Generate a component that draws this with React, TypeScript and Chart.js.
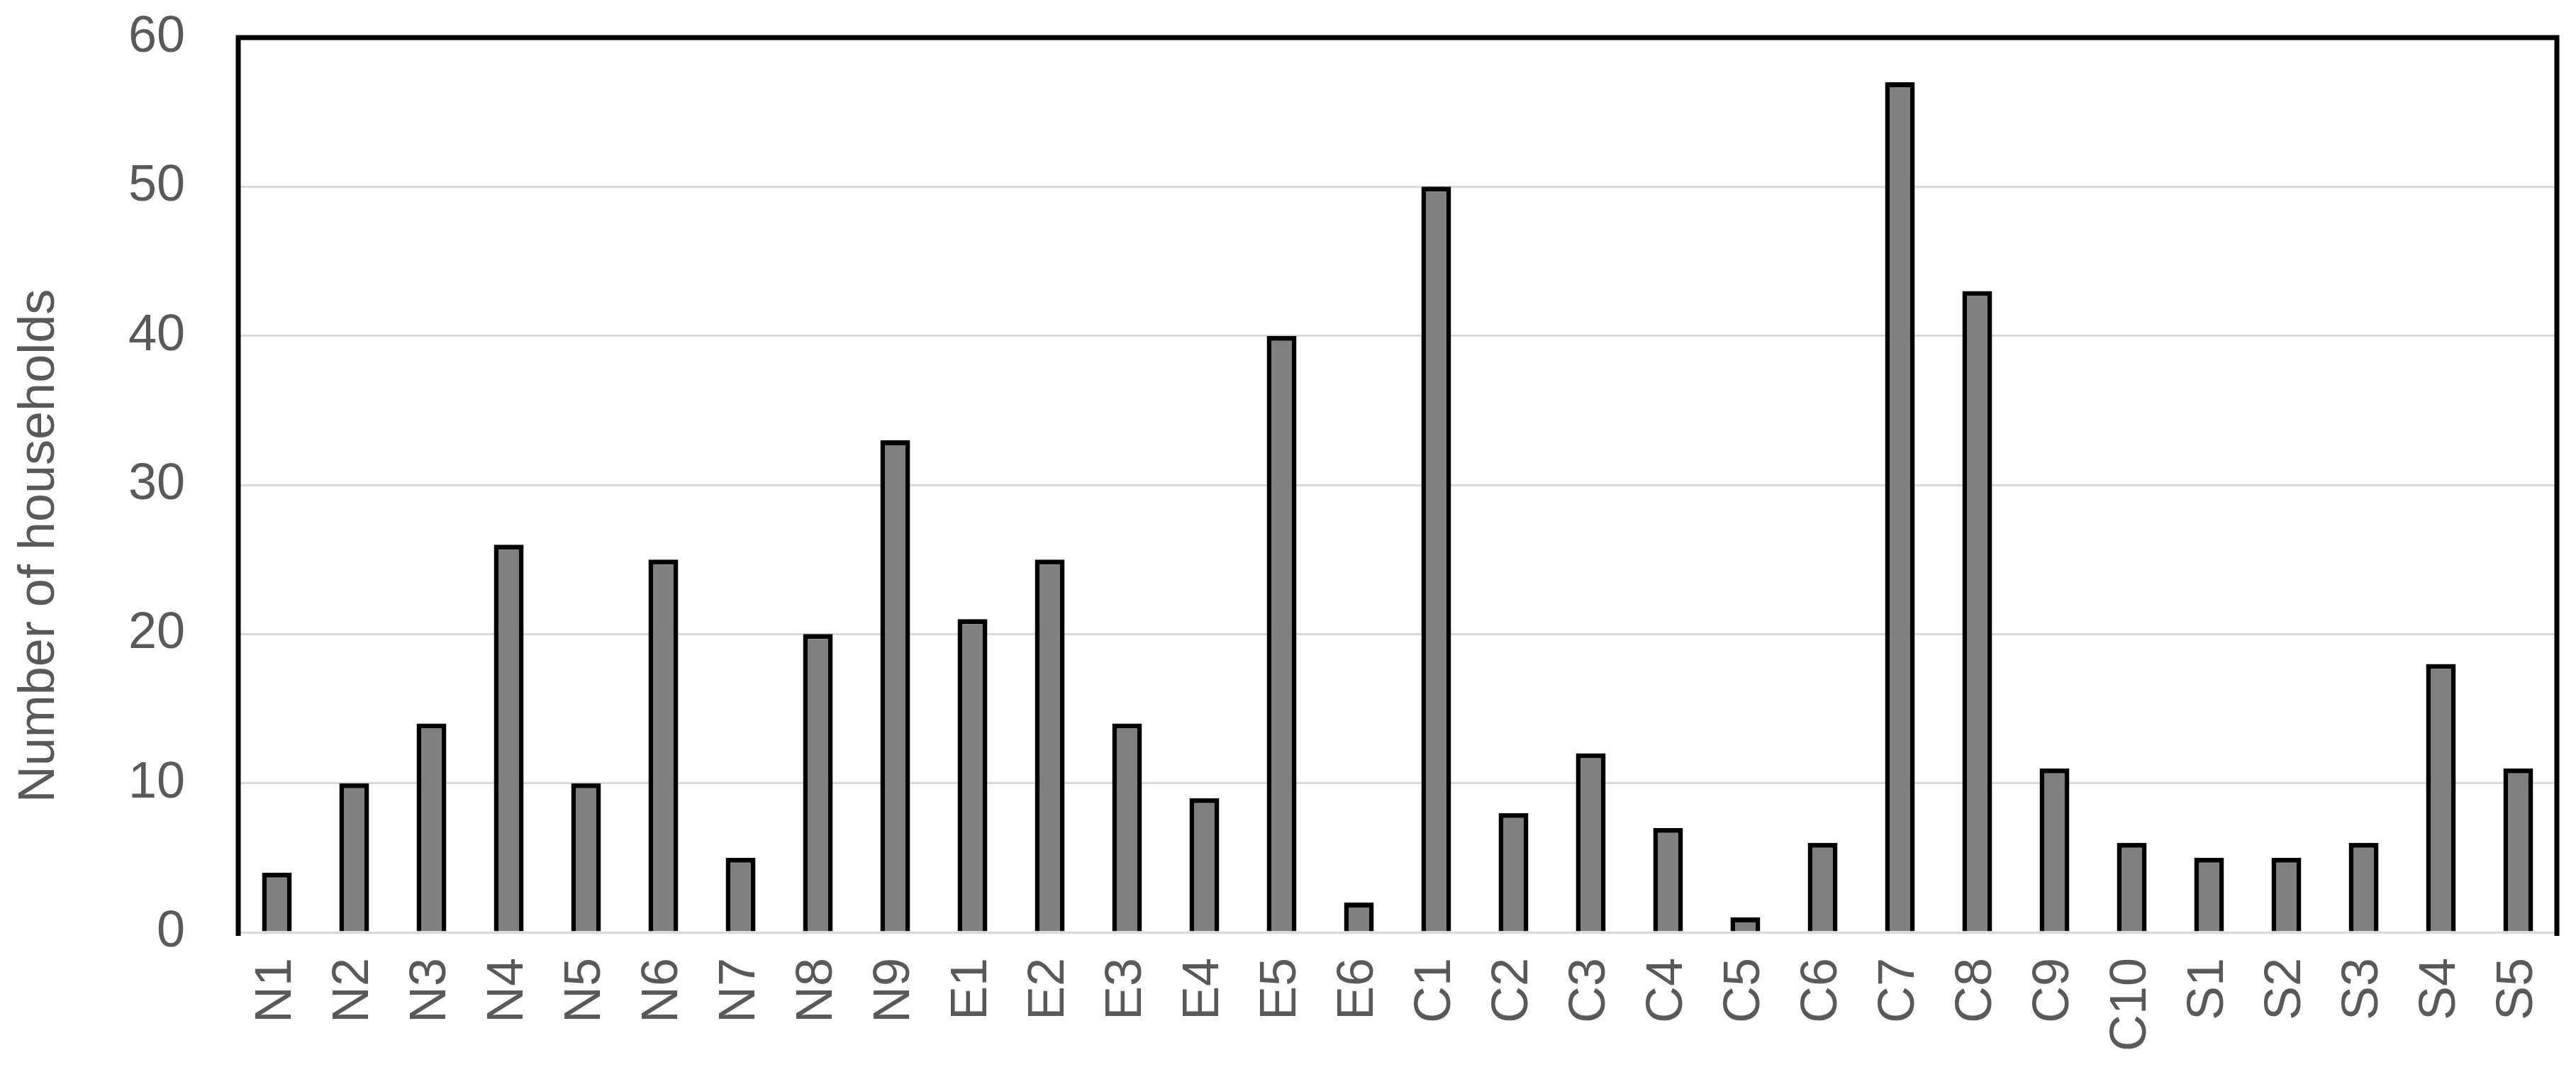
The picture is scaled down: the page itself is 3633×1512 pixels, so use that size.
import React, { useEffect, useRef } from "react";
import { Chart, registerables } from "chart.js";

Chart.register(...registerables);

const categories = [
  "N1", "N2", "N3", "N4", "N5", "N6", "N7", "N8", "N9",
  "E1", "E2", "E3", "E4", "E5", "E6",
  "C1", "C2", "C3", "C4", "C5", "C6", "C7", "C8", "C9", "C10",
  "S1", "S2", "S3", "S4", "S5",
];

const households = [
  4, 10, 14, 26, 10, 25, 5, 20, 33,
  21, 25, 14, 9, 40, 2,
  50, 8, 12, 7, 1, 6, 57, 43, 11, 6,
  5, 5, 6, 18, 11,
];

const yTicks = [0, 10, 20, 30, 40, 50, 60];
const yTitle = "Number of households";

const W = 3633;
const H = 1512;
const FONT = "'Liberation Sans', Arial, sans-serif";
const TEXT_COLOR = "#595959";

const framePlugin = {
  id: "frame",
  afterDraw(chart: any) {
    const { ctx, chartArea } = chart;
    const { left, right, top, bottom } = chartArea;
    ctx.save();
    ctx.strokeStyle = "#000000";
    ctx.lineWidth = 7;
    ctx.lineCap = "butt";
    ctx.lineJoin = "miter";
    ctx.beginPath();
    ctx.moveTo(left, bottom + 5);
    ctx.lineTo(left, top);
    ctx.lineTo(right, top);
    ctx.lineTo(right, bottom + 5);
    ctx.stroke();
    ctx.restore();

    // y-axis title
    ctx.save();
    ctx.fillStyle = TEXT_COLOR;
    ctx.font = `72px ${FONT}`;
    ctx.textAlign = "center";
    ctx.textBaseline = "middle";
    ctx.translate(56, 770);
    ctx.rotate(-Math.PI / 2);
    ctx.fillText(yTitle, 0, 0);
    ctx.restore();
  },
};

export default function App() {
  const canvasRef = useRef<HTMLCanvasElement | null>(null);

  useEffect(() => {
    document.body.style.margin = "0";
    const canvas = canvasRef.current;
    if (!canvas) return;
    const chart = new Chart(canvas, {
      type: "bar",
      data: {
        labels: categories,
        datasets: [
          {
            label: yTitle,
            data: households,
            backgroundColor: "#808080",
            borderColor: "#000000",
            borderWidth: 7,
            barPercentage: 0.385,
            categoryPercentage: 1,
          },
        ],
      },
      options: {
        responsive: false,
        animation: false,
        devicePixelRatio: 1,
        layout: { padding: { top: 53, right: 27, bottom: 0, left: 0 } },
        plugins: {
          legend: { display: false },
          tooltip: { enabled: false },
          title: { display: false },
        },
        scales: {
          x: {
            type: "category",
            grid: { display: false, drawTicks: false },
            border: { display: false },
            ticks: {
              color: TEXT_COLOR,
              font: { family: FONT, size: 72 },
              minRotation: 90,
              maxRotation: 90,
              padding: 36,
              autoSkip: false,
            },
            afterFit(scale: any) {
              scale.height = 197;
              scale.paddingLeft = 0;
              scale.paddingRight = 0;
              scale.paddingTop = 0;
              scale.paddingBottom = 0;
            },
          },
          y: {
            type: "linear",
            min: 0,
            max: 60,
            afterBuildTicks(scale: any) {
              scale.ticks = yTicks.map((v) => ({ value: v }));
            },
            grid: {
              color: "#d9d9d9",
              lineWidth: 3,
              drawTicks: false,
              tickLength: 0,
            },
            border: { display: false },
            ticks: {
              color: TEXT_COLOR,
              font: { family: FONT, size: 72 },
              padding: 75,
            },
            title: { display: false },
            afterFit(scale: any) {
              scale.width = 336;
              scale.paddingLeft = 0;
              scale.paddingRight = 0;
              scale.paddingTop = 0;
              scale.paddingBottom = 0;
            },
          },
        },
      },
      plugins: [framePlugin],
    });
    return () => chart.destroy();
  }, []);

  return (
    <div style={{ position: "absolute", left: 0, top: 0, width: W, height: H, background: "#ffffff" }}>
      <canvas ref={canvasRef} width={W} height={H} style={{ display: "block", width: W, height: H }} />
    </div>
  );
}
